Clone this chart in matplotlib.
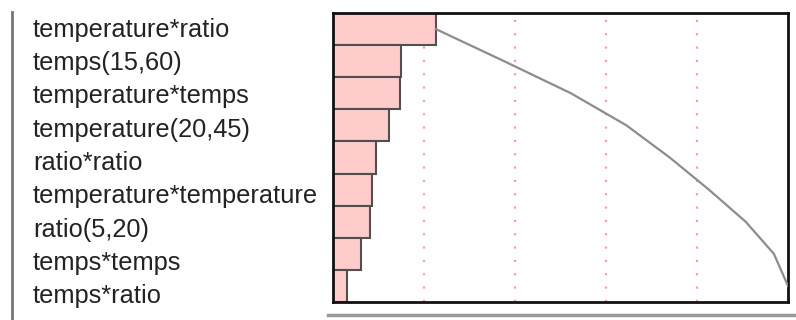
import numpy as np
import matplotlib
matplotlib.use("Agg")
import matplotlib.pyplot as plt
from matplotlib.lines import Line2D

plt.rcParams['font.family'] = ['Liberation Sans', 'DejaVu Sans']

# effect terms, largest first, and their share of the total effect
terms = [
    "temperature*ratio",
    "temps(15,60)",
    "temperature*temps",
    "temperature(20,45)",
    "ratio*ratio",
    "temperature*temperature",
    "ratio(5,20)",
    "temps*temps",
    "temps*ratio",
]
shares = [0.226, 0.150, 0.147, 0.122, 0.095, 0.086, 0.081, 0.062, 0.031]
grid_marks = [0.2, 0.4, 0.6, 0.8]

shares = np.array(shares)
total = shares.sum()
cum = np.cumsum(shares)
rows = np.arange(len(terms))

fig = plt.figure(figsize=(7.96, 3.2), dpi=100)
ax = fig.add_axes([333 / 796, 1 - 302 / 320, (788 - 333) / 796, (302 - 13) / 320])

for g in grid_marks:
    ax.axvline(g * total, color="#ff9aaa", lw=1.6, linestyle=(0, (1, 5)), zorder=1)

ax.barh(rows, shares, height=1.0, left=0, color="#ffcccc",
        edgecolor="#505050", linewidth=1.5, zorder=2)
ax.plot(cum, rows, color="#8c8c8c", lw=1.6, zorder=3)

ax.set_xlim(0, total)
ax.set_ylim(len(terms) - 0.5, -0.5)
ax.set_xticks([])
ax.set_yticks([])
for s in ax.spines.values():
    s.set_linewidth(2)
    s.set_color("#111111")

# term names down the left side, one per baseline
for r, name in zip(rows, terms):
    y_fig = 1 - (37 + r * 33.25) / 320
    fig.text(33 / 796, y_fig, name, fontsize=18.3, color="#222222",
             ha="left", va="baseline")

# outer rules
fig.add_artist(Line2D([12 / 796, 12 / 796], [0, 1 - 12 / 320],
                      transform=fig.transFigure, color="#777777", lw=2))
fig.add_artist(Line2D([328 / 796, 1.0], [1 - 315 / 320, 1 - 315 / 320],
                      transform=fig.transFigure, color="#999999", lw=2.5))

fig.savefig("out.png", dpi=100)
